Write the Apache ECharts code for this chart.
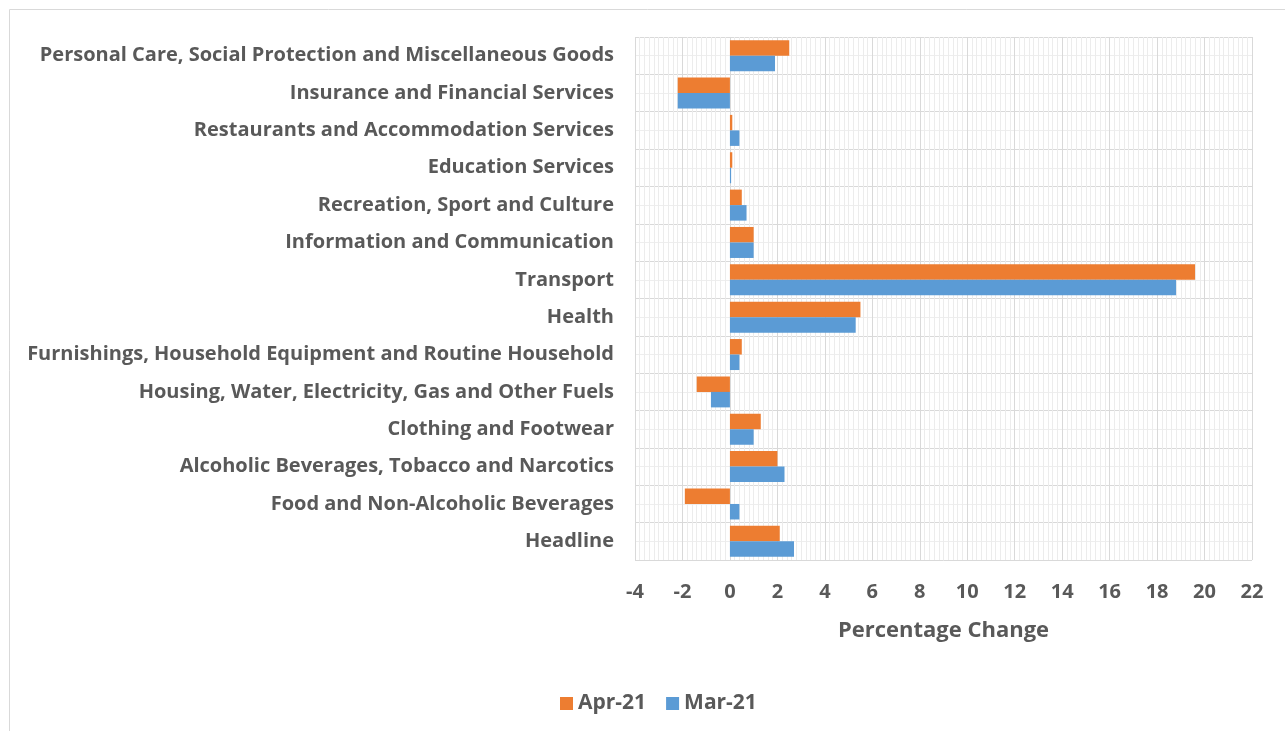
<!DOCTYPE html>
<html>
<head>
<meta charset="utf-8">
<script src="https://cdn.jsdelivr.net/npm/echarts@6/dist/echarts.min.js"></script>
<style>
  html, body { margin: 0; padding: 0; background: #fff; }
  #main { width: 1285px; height: 731px; }
</style>
</head>
<body>
<div id="main"></div>
<script>
// categories from bottom to top
var categories = [
  'Headline',
  'Food and Non-Alcoholic Beverages',
  'Alcoholic Beverages, Tobacco and Narcotics',
  'Clothing and Footwear',
  'Housing, Water, Electricity, Gas and Other Fuels',
  'Furnishings, Household Equipment and Routine Household',
  'Health',
  'Transport',
  'Information and Communication',
  'Recreation, Sport and Culture',
  'Education Services',
  'Restaurants and Accommodation Services',
  'Insurance and Financial Services',
  'Personal Care, Social Protection and Miscellaneous Goods'
];
var apr21 = [2.1, -1.9, 2.0, 1.3, -1.4, 0.5, 5.5, 19.6, 1.0, 0.5, 0.1, 0.1, -2.2, 2.5];
var mar21 = [2.7, 0.4, 2.3, 1.0, -0.8, 0.4, 5.3, 18.8, 1.0, 0.7, 0.05, 0.4, -2.2, 1.9];

var textColor = '#595959';
var font = 'Open Sans';

var chart = echarts.init(document.getElementById('main'));

var option = {
  animation: false,
  textStyle: { fontFamily: font },
  graphic: [{
    type: 'rect',
    shape: { x: 9.5, y: 9.5, width: 1300, height: 740 },
    style: { fill: null, stroke: '#d9d9d9', lineWidth: 1 },
    silent: true
  }],
  grid: { left: 635, right: 33, top: 37, bottom: 171 },
  legend: {
    data: ['Apr-21', 'Mar-21'],
    left: 555,
    top: 688,
    itemWidth: 13,
    itemHeight: 13,
    itemGap: 20,
    icon: 'rect',
    textStyle: { color: textColor, fontSize: 21, fontWeight: 'bold', fontFamily: font }
  },
  xAxis: [{
    type: 'value',
    min: -4,
    max: 22,
    interval: 2,
    name: 'Percentage Change',
    nameLocation: 'middle',
    nameGap: 60,
    nameTextStyle: { color: textColor, fontSize: 22, fontWeight: 'bold', fontFamily: font },
    axisLine: { show: false },
    axisTick: { show: false },
    axisLabel: { color: textColor, fontSize: 20, fontWeight: 'bold', margin: 22, fontFamily: font },
    splitLine: { show: true, lineStyle: { color: '#d9d9d9', width: 1 } },
    minorTick: { show: false, splitNumber: 10 },
    minorSplitLine: { show: true, lineStyle: { color: '#ececec', width: 1 } }
  }],
  yAxis: [{
    type: 'category',
    data: categories,
    axisLine: { show: false },
    axisTick: { show: false },
    axisLabel: { color: textColor, fontSize: 20, fontWeight: 'bold', margin: 21, fontFamily: font, interval: 0, padding: [9, 0, 0, 0] },
    splitLine: { show: true, interval: 0, lineStyle: { color: '#d9d9d9', width: 1 } }
  }, {
    type: 'value',
    min: 0,
    max: 14,
    interval: 1,
    show: true,
    axisLine: { show: false },
    axisTick: { show: false },
    axisLabel: { show: false },
    splitLine: { show: false },
    minorTick: { show: false, splitNumber: 2 },
    minorSplitLine: { show: true, lineStyle: { color: '#eeeeee', width: 1 } }
  }],
  series: [{
    name: 'Apr-21',
    type: 'bar',
    data: apr21,
    yAxisIndex: 0,
    barGap: '0%',
    barCategoryGap: '17%',
    itemStyle: { color: '#ED7D31' }
  }, {
    name: 'Mar-21',
    type: 'bar',
    data: mar21,
    yAxisIndex: 0,
    itemStyle: { color: '#5B9BD5' }
  }]
};

chart.setOption(option);
</script>
</body>
</html>
